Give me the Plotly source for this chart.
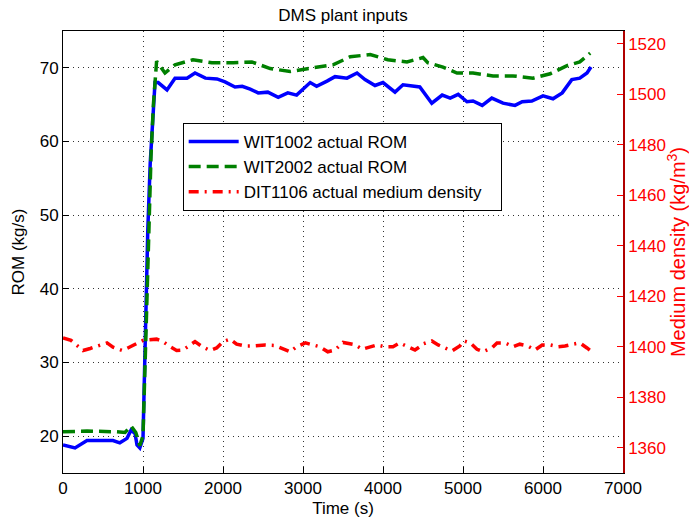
import plotly.graph_objects as go

# ---- data ----
t_wit1002 = [0, 150, 300, 625, 710, 800, 850, 900, 925, 960, 1000, 1030, 1060, 1090, 1120, 1150,
             1190, 1300, 1400, 1550, 1650, 1780, 1925, 2025, 2150, 2240, 2340, 2440, 2560, 2690,
             2810, 2920, 3090, 3170, 3300, 3400, 3550, 3675, 3775, 3900, 4000, 4150, 4250, 4460,
             4610, 4740, 4840, 4940, 5050, 5125, 5240, 5360, 5500, 5650, 5740, 5860, 6000, 6125,
             6240, 6360, 6460, 6550, 6600]
wit1002 = [18.8, 18.4, 19.4, 19.4, 19.1, 19.7, 20.8, 20.4, 18.8, 18.4, 19.7, 35, 48, 57, 63, 68,
           68, 67, 68.6, 68.6, 69.3, 68.6, 68.5, 68.1, 67.4, 67.5, 67.1, 66.6, 66.7, 66.0,
           66.6, 66.3, 68.0, 67.5, 68.2, 68.8, 68.6, 69.3, 68.4, 67.6, 68.0, 66.7, 67.7, 67.4,
           65.2, 66.3, 65.9, 66.4, 65.4, 65.5, 64.9, 65.9, 65.2, 64.9, 65.4, 65.5, 66.2, 65.8,
           66.6, 68.4, 68.6, 69.3, 70.1]

t_wit2002 = [0, 300, 660, 775, 850, 910, 960, 1000, 1040, 1070, 1100, 1130, 1170, 1275, 1400,
             1625, 1860, 2125, 2360, 2590, 2840, 3125, 3375, 3590, 3840, 4060, 4300, 4500, 4560,
             4750, 4925, 5125, 5375, 5625, 5875, 6090, 6300, 6460, 6590]
wit2002 = [20.6, 20.7, 20.6, 20.5, 21.4, 20.5, 18.7, 20.1, 35, 48, 58, 65, 70.9, 69.3, 70.4,
           71.1, 70.7, 70.7, 70.8, 69.9, 69.5, 70.0, 70.4, 71.5, 71.8, 71.1, 70.8, 71.4, 70.7,
           70.1, 69.3, 69.3, 68.9, 68.9, 68.6, 69.2, 70.3, 70.8, 72.0]

t_dit1106 = [0, 100, 175, 250, 340, 440, 550, 625, 740, 810, 900, 1000, 1170, 1250, 1340, 1420,
             1500, 1560, 1650, 1740, 1840, 1920, 2000, 2090, 2170, 2275, 2375, 2525, 2650, 2840,
             2920, 3030, 3210, 3310, 3400, 3500, 3650, 3740, 3840, 3925, 4020, 4125, 4210, 4300,
             4400, 4460, 4500, 4610, 4690, 4775, 4860, 4960, 5010, 5090, 5175, 5250, 5360, 5425,
             5525, 5630, 5710, 5810, 5900, 5990, 6090, 6190, 6275, 6375, 6460, 6550, 6610]
dit1106 = [1403.5, 1402.5, 1400.5, 1398.5, 1399.3, 1400.3, 1401.5, 1399.8, 1398.5, 1399.5, 1401,
           1402.5, 1403, 1402, 1400, 1398.5, 1398.7, 1400, 1402, 1400, 1398.5, 1399.5, 1402,
           1403, 1401, 1400.3, 1400.3, 1400.7, 1400.5, 1398, 1400, 1401.5, 1400, 1398, 1398.7,
           1401.7, 1400.8, 1399, 1400, 1400.7, 1400, 1400, 1401.5, 1400.3, 1398.7, 1400, 1401.1,
           1402.3, 1400.7, 1399.5, 1398.3, 1400.3, 1402.3, 1401.5, 1399, 1398, 1399.5, 1401.5,
           1401.5, 1400, 1401, 1400.3, 1398.7, 1400.7, 1400.7, 1400, 1400.3, 1401, 1401.5,
           1399.5, 1398]

x_ticks = [0, 1000, 2000, 3000, 4000, 5000, 6000, 7000]
y1_ticks = [20, 30, 40, 50, 60, 70]
y2_ticks = [1360, 1380, 1400, 1420, 1440, 1460, 1480, 1500, 1520]

FONT = "Liberation Sans, Arial, Helvetica, sans-serif"
NB = "\u00a0"

fig = go.Figure()
fig.add_trace(go.Scatter(x=t_wit1002, y=wit1002, mode="lines", name="WIT1002 actual ROM",
                         line=dict(color="#0000ff", width=3.5)))
fig.add_trace(go.Scatter(x=t_wit2002, y=wit2002, mode="lines", name="WIT2002 actual ROM",
                         line=dict(color="#008000", width=3.5, dash="12px,6px")))
fig.add_trace(go.Scatter(x=t_dit1106, y=dit1106, mode="lines",
                         name="DIT1106 actual medium density" + NB * 3,
                         line=dict(color="#ff0000", width=3.5, dash="10px,6px,2px,6px"),
                         yaxis="y2"))

fig.update_layout(
    width=689, height=521,
    margin=dict(l=63, r=66, t=31, b=48, autoexpand=False),
    paper_bgcolor="white", plot_bgcolor="white",
    font=dict(family=FONT, size=17, color="black"),
    title=dict(text="DMS plant inputs", xref="paper", x=0.5, xanchor="center",
               yref="container", y=1 - 15 / 521, yanchor="middle",
               font=dict(size=17, color="black")),
    showlegend=True,
    legend=dict(x=0.2137, y=0.792, xanchor="left", yanchor="top",
                bgcolor="white", bordercolor="black", borderwidth=1,
                font=dict(size=17), itemwidth=50, tracegroupgap=0),
    xaxis=dict(range=[0, 7000], tickvals=x_ticks, ticks="inside", ticklen=6,
               tickcolor="black", showline=True, linecolor="black", linewidth=1, mirror=True,
               showgrid=True, gridcolor="#333333", griddash="1px,4px", gridwidth=1,
               zeroline=False, automargin=False,
               title=dict(text="Time (s)", standoff=4, font=dict(size=17)),
               tickfont=dict(size=17)),
    yaxis=dict(range=[15, 75], tickvals=y1_ticks, ticks="inside", ticklen=6,
               tickcolor="black", showline=True, linecolor="black", linewidth=1,
               showgrid=True, gridcolor="#333333", griddash="1px,4px", gridwidth=1,
               zeroline=False, automargin=False,
               title=dict(text="ROM (kg/s)", standoff=10, font=dict(size=17)),
               tickfont=dict(size=17)),
    yaxis2=dict(range=[1350, 1525], tickvals=y2_ticks, overlaying="y", side="right",
                ticks="inside", ticklen=6, tickcolor="#ff0000",
                showline=True, linecolor="#b00000", linewidth=1.5,
                showgrid=False, zeroline=False, automargin=False,
                tickfont=dict(size=17, color="#ff0000"),
                title=dict(text="Medium density (kg/m<sup>3</sup>)", standoff=2,
                           font=dict(color="#ff0000", size=20))),
)

fig.write_html("out.html", config={"displayModeBar": False},
               post_script="document.body.style.margin='0';document.body.style.overflow='hidden';")
